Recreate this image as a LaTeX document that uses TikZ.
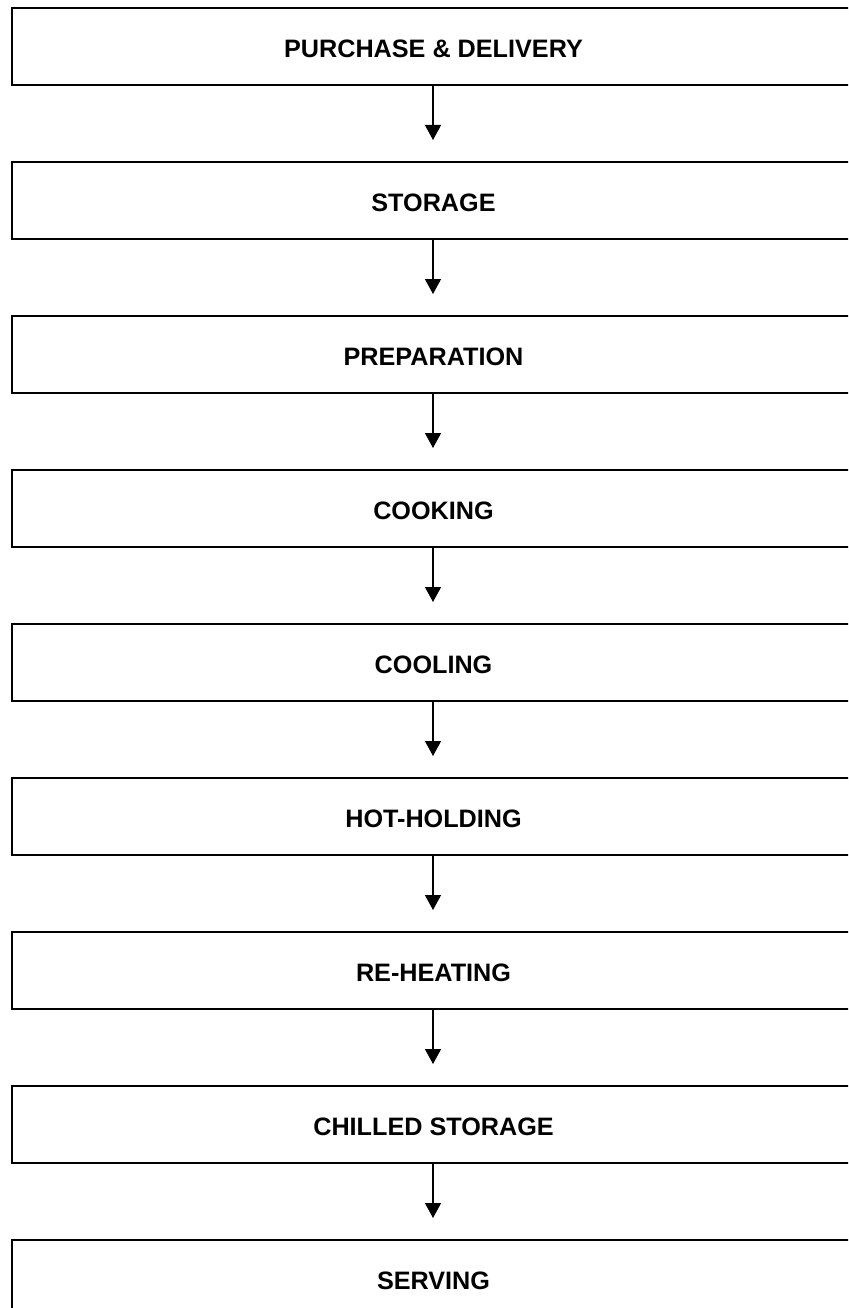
\documentclass[tikz,border=0pt]{standalone}
\usepackage{fontspec}
\setmainfont{Liberation Sans}
\usetikzlibrary{arrows.meta}
\begin{document}
\begin{tikzpicture}[x=1pt,y=-1pt,
  stepbox/.style={draw=black,line width=2pt,minimum width=860pt,minimum height=77pt,anchor=north west,inner sep=0pt},
  lbl/.style={anchor=base,font=\fontsize{25.2}{30}\selectfont\bfseries},
  flow/.style={line width=1.3pt,-{Triangle[length=15pt,width=16pt]}}]
\useasboundingbox (0,0) rectangle (848,1308);
\clip (0,0) rectangle (848,1308);
\fill[white] (0,0) rectangle (848,1308);
\foreach \k/\t in {0/PURCHASE \& DELIVERY,1/STORAGE,2/PREPARATION,3/COOKING,4/COOLING,5/HOT-HOLDING,6/RE-HEATING,7/CHILLED STORAGE,8/SERVING}{
  \node[stepbox] (b\k) at (11,{7+154*\k}) {};
  \node[lbl] (t\k) at (433.5,{57.5+154*\k}) {\t};
}
\foreach \k in {0,...,7}{
  \coordinate (e\k) at (433,{140+154*\k});
  \draw[flow] (b\k.south -| e\k) -- (e\k);
}
\end{tikzpicture}
\end{document}
